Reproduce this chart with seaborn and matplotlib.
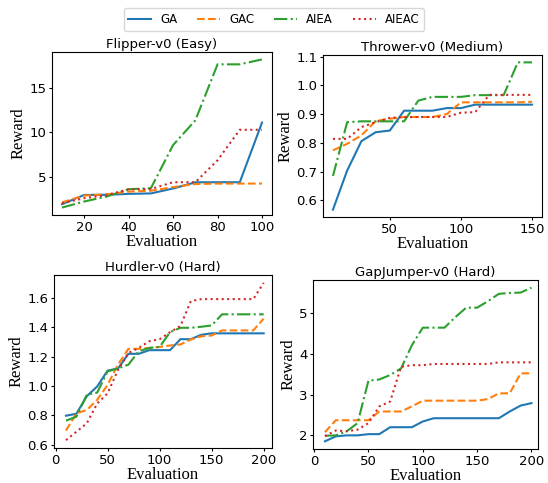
import numpy as np
import pandas as pd
import matplotlib
matplotlib.use("Agg")
import matplotlib.pyplot as plt
import seaborn as sns

methods = ["GA", "GAC", "AIEA", "AIEAC"]

# Flipper-v0 (Easy)
flipper_x = list(range(10, 101, 10))
flipper_ga = [2.0, 3.03, 3.05, 3.15, 3.2, 3.75, 4.44, 4.45, 4.45, 11.1]
flipper_gac = [2.2, 2.96, 3.1, 3.4, 3.5, 3.9, 4.25, 4.3, 4.3, 4.3]
flipper_aiea = [1.62, 2.3, 2.85, 3.67, 3.78, 8.6, 11.35, 17.6, 17.6, 18.15]
flipper_aieac = [2.1, 2.67, 3.0, 3.67, 3.7, 4.45, 4.45, 6.9, 10.3, 10.3]

# Thrower-v0 (Medium)
thrower_x = list(range(10, 151, 10))
thrower_ga = [0.568, 0.704, 0.806, 0.837, 0.843, 0.912, 0.912, 0.912, 0.921,
              0.921, 0.933, 0.933, 0.933, 0.933, 0.933]
thrower_gac = [0.774, 0.797, 0.826, 0.876, 0.884, 0.89, 0.89, 0.89, 0.90,
               0.941, 0.941, 0.941, 0.941, 0.941, 0.943]
thrower_aiea = [0.685, 0.872, 0.875, 0.875, 0.875, 0.875, 0.947, 0.96, 0.96,
                0.96, 0.966, 0.966, 0.966, 1.08, 1.08]
thrower_aieac = [0.814, 0.814, 0.855, 0.872, 0.887, 0.89, 0.89, 0.89, 0.89,
                 0.905, 0.907, 0.967, 0.967, 0.967, 0.967]

# Hurdler-v0 (Hard)
hurdler_x = list(range(10, 201, 10))
hurdler_ga = [0.797, 0.81, 0.93, 0.997, 1.105, 1.12, 1.22, 1.22, 1.245, 1.245,
              1.245, 1.32, 1.32, 1.35, 1.36, 1.36, 1.36, 1.36, 1.36, 1.36]
hurdler_gac = [0.695, 0.813, 0.836, 0.905, 1.008, 1.146, 1.254, 1.254, 1.26,
               1.267, 1.277, 1.284, 1.318, 1.34, 1.345, 1.38, 1.38, 1.38, 1.38, 1.46]
hurdler_aiea = [0.763, 0.79, 0.94, 0.955, 1.1, 1.12, 1.146, 1.238, 1.26, 1.267,
                1.368, 1.398, 1.398, 1.405, 1.414, 1.49, 1.49, 1.49, 1.49, 1.49]
hurdler_aieac = [0.63, 0.687, 0.745, 0.88, 0.95, 1.11, 1.226, 1.26, 1.306, 1.32,
                 1.368, 1.41, 1.58, 1.594, 1.594, 1.594, 1.594, 1.594, 1.594, 1.705]

# GapJumper-v0 (Hard)
gap_x = list(range(10, 201, 10))
gap_ga = [1.854, 1.976, 2.0, 2.0, 2.03, 2.03, 2.2, 2.2, 2.2, 2.34, 2.42, 2.42,
          2.42, 2.42, 2.42, 2.42, 2.42, 2.585, 2.73, 2.79]
gap_gac = [2.08, 2.37, 2.37, 2.37, 2.37, 2.585, 2.585, 2.585, 2.71, 2.85, 2.85,
           2.85, 2.85, 2.85, 2.85, 2.89, 3.03, 3.03, 3.52, 3.52]
gap_aiea = [1.99, 2.0, 2.1, 2.3, 3.34, 3.37, 3.48, 3.64, 4.21, 4.64, 4.64, 4.64,
            4.9, 5.13, 5.13, 5.29, 5.47, 5.49, 5.5, 5.62]
gap_aieac = [1.98, 2.12, 2.1, 2.14, 2.3, 2.71, 2.83, 3.68, 3.72, 3.72, 3.75,
             3.75, 3.75, 3.75, 3.75, 3.75, 3.79, 3.79, 3.79, 3.79]

panels = [
    ("Flipper-v0 (Easy)", flipper_x, [flipper_ga, flipper_gac, flipper_aiea, flipper_aieac], None),
    ("Thrower-v0 (Medium)", thrower_x, [thrower_ga, thrower_gac, thrower_aiea, thrower_aieac], None),
    ("Hurdler-v0 (Hard)", hurdler_x, [hurdler_ga, hurdler_gac, hurdler_aiea, hurdler_aieac], (-1.5, 208)),
    ("GapJumper-v0 (Hard)", gap_x, [gap_ga, gap_gac, gap_aiea, gap_aieac], (-1, 206)),
]

palette = dict(zip(methods, ["#1f77b4", "#ff7f0e", "#2ca02c", "#d62728"]))
dashes = {"GA": "", "GAC": (3.7, 1.6), "AIEA": (6.4, 1.6, 1.0, 1.6), "AIEAC": (1.0, 1.65)}

W, H = 548, 483
fig = plt.figure(figsize=(W / 100, H / 100), dpi=100)

# axes boxes in pixels: left, top, right, bottom
boxes = [(52, 52, 272, 215), (323, 55, 542, 217),
         (54, 275, 272, 448), (313, 280, 538, 449)]

serif = "Liberation Serif"
handles = labels = None
for (title, xs, series, xlim), (l, t, r, b) in zip(panels, boxes):
    ax = fig.add_axes([l / W, 1 - b / H, (r - l) / W, (b - t) / H])
    frames = [pd.DataFrame({"Evaluation": xs, "Reward": ys, "Method": m})
              for m, ys in zip(methods, series)]
    df = pd.concat(frames, ignore_index=True)
    sns.lineplot(data=df, x="Evaluation", y="Reward", hue="Method", style="Method",
                 hue_order=methods, style_order=methods, palette=palette,
                 dashes=dashes, linewidth=1.5, ax=ax)
    if xlim is not None:
        ax.set_xlim(*xlim)
    ax.set_title(title, fontsize=9.5, pad=3)
    ax.set_xlabel("Evaluation", fontfamily=serif, fontsize=12, labelpad=0)
    ax.set_ylabel("Reward", fontfamily=serif, fontsize=12, labelpad=2)
    ax.tick_params(labelsize=9.5, length=2.5, pad=1.5)
    if handles is None:
        handles, labels = ax.get_legend_handles_labels()
    ax.get_legend().remove()

fig.legend(handles, labels, loc="upper center", ncol=4, bbox_to_anchor=(0.5, 0.995),
           fontsize=8.5, frameon=True, handlelength=1.9, handletextpad=0.8,
           columnspacing=1.7)

fig.savefig("out.png", dpi=100)
